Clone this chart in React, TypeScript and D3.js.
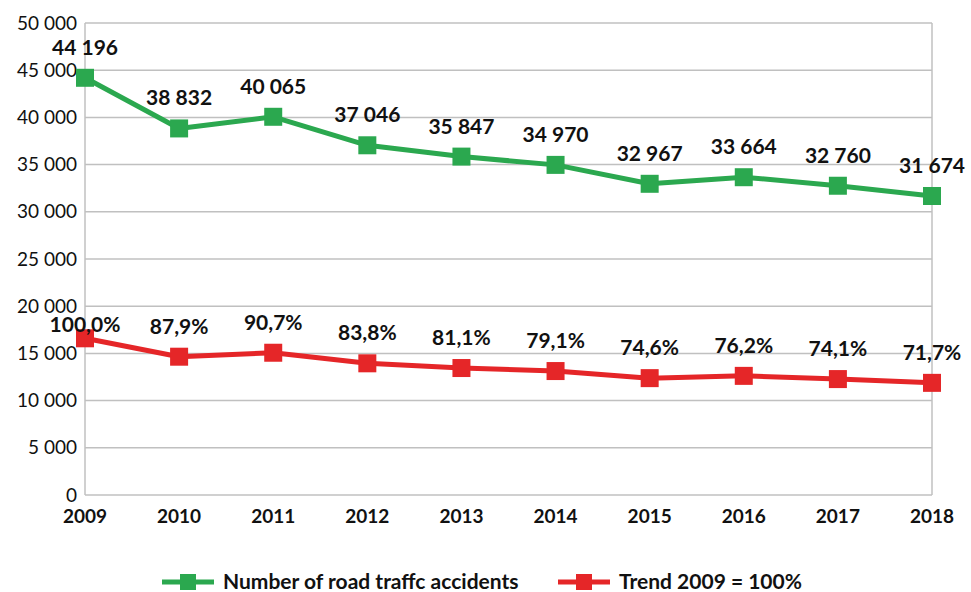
import React, { useEffect, useRef } from 'react';
import * as d3 from 'd3';

const years = ['2009', '2010', '2011', '2012', '2013', '2014', '2015', '2016', '2017', '2018'];
const accidents = [44196, 38832, 40065, 37046, 35847, 34970, 32967, 33664, 32760, 31674];
// trend line is drawn on the same axis
const trendPlotted = [16600, 14650, 15070, 13950, 13450, 13130, 12380, 12620, 12280, 11880];
const trendLabels = ['100,0%', '87,9%', '90,7%', '83,8%', '81,1%', '79,1%', '74,6%', '76,2%', '74,1%', '71,7%'];
const yTicks = [0, 5000, 10000, 15000, 20000, 25000, 30000, 35000, 40000, 45000, 50000];

const GREEN = '#2ba84f';
const RED = '#e52628';
const FONT = 'Lato, "Open Sans", sans-serif';

const fmt = (v: number) => d3.format(',')(v).replace(/,/g, ' ');

const App: React.FC = () => {
  const ref = useRef<SVGSVGElement>(null);

  useEffect(() => {
    if (!ref.current) return;
    const svg = d3.select(ref.current);
    svg.selectAll('*').remove();

    const width = 971;
    const height = 592;
    const left = 85;
    const right = 932;
    const top = 23;
    const bottom = 495;

    svg.append('rect').attr('width', width).attr('height', height).attr('fill', '#fff');

    const x = d3.scalePoint<string>().domain(years).range([left, right]);
    const y = d3.scaleLinear().domain([0, 50000]).range([bottom, top]);

    // gridlines
    svg.append('g')
      .selectAll('line')
      .data(yTicks)
      .join('line')
      .attr('x1', left)
      .attr('x2', right)
      .attr('y1', d => y(d))
      .attr('y2', d => y(d))
      .attr('stroke', '#c0c0c0')
      .attr('stroke-width', 1.5);

    // plot frame verticals
    [left, right].forEach(px => {
      svg.append('line')
        .attr('x1', px).attr('x2', px)
        .attr('y1', top).attr('y2', bottom)
        .attr('stroke', '#c0c0c0')
        .attr('stroke-width', 1.5);
    });

    // y tick labels
    svg.append('g')
      .selectAll('text')
      .data(yTicks)
      .join('text')
      .attr('x', 77)
      .attr('y', d => y(d))
      .attr('dy', '0.35em')
      .attr('text-anchor', 'end')
      .style('font-family', FONT)
      .style('font-size', '19px')
      .attr('fill', '#111')
      .text(d => fmt(d));

    // x tick labels
    svg.append('g')
      .selectAll('text')
      .data(years)
      .join('text')
      .attr('x', d => x(d)!)
      .attr('y', 523)
      .attr('text-anchor', 'middle')
      .style('font-family', FONT)
      .style('font-size', '19px')
      .style('font-weight', 'bold')
      .attr('fill', '#111')
      .text(d => d);

    const line = d3.line<number>()
      .x((_, i) => x(years[i])!)
      .y(d => y(d));

    const drawSeries = (vals: number[], color: string) => {
      svg.append('path')
        .attr('d', line(vals)!)
        .attr('fill', 'none')
        .attr('stroke', color)
        .attr('stroke-width', 5)
        .attr('stroke-linejoin', 'round');
      svg.append('g')
        .selectAll('rect')
        .data(vals)
        .join('rect')
        .attr('x', (_, i) => x(years[i])! - 9)
        .attr('y', d => y(d) - 9)
        .attr('width', 18)
        .attr('height', 18)
        .attr('fill', color);
    };

    drawSeries(accidents, GREEN);
    drawSeries(trendPlotted, RED);

    const label = (vals: number[], texts: string[], shift: (i: number) => number) => {
      svg.append('g')
        .selectAll('text')
        .data(vals)
        .join('text')
        .attr('x', (_, i) => x(years[i])!)
        .attr('y', (d, i) => y(d) - 23 + shift(i))
        .attr('text-anchor', 'middle')
        .style('font-family', FONT)
        .style('font-size', '21px')
        .style('font-weight', 'bold')
        .attr('fill', '#111')
        .text((_, i) => texts[i]);
    };

    label(accidents, accidents.map(fmt), () => 0);
    // first trend label sits lower, over its marker
    label(trendPlotted, trendLabels, i => (i === 0 ? 17 : 0));

    // legend
    const legend = [
      { name: 'Number of road traffc accidents', color: GREEN, x0: 162 },
      { name: 'Trend 2009 = 100%', color: RED, x0: 558 },
    ];
    const ly = 582;
    legend.forEach(l => {
      svg.append('line')
        .attr('x1', l.x0).attr('x2', l.x0 + 52)
        .attr('y1', ly).attr('y2', ly)
        .attr('stroke', l.color)
        .attr('stroke-width', 5);
      svg.append('rect')
        .attr('x', l.x0 + 26 - 8).attr('y', ly - 8)
        .attr('width', 16).attr('height', 16)
        .attr('fill', l.color);
      svg.append('text')
        .attr('x', l.x0 + 61)
        .attr('y', ly)
        .attr('dy', '0.35em')
        .style('font-family', FONT)
        .style('font-size', '21px')
        .style('font-weight', 'bold')
        .attr('fill', '#111')
        .text(l.name);
    });
  }, []);

  return (
    <svg
      ref={ref}
      width={971}
      height={592}
      style={{ position: 'absolute', left: 0, top: 0, display: 'block' }}
    />
  );
};

export default App;
